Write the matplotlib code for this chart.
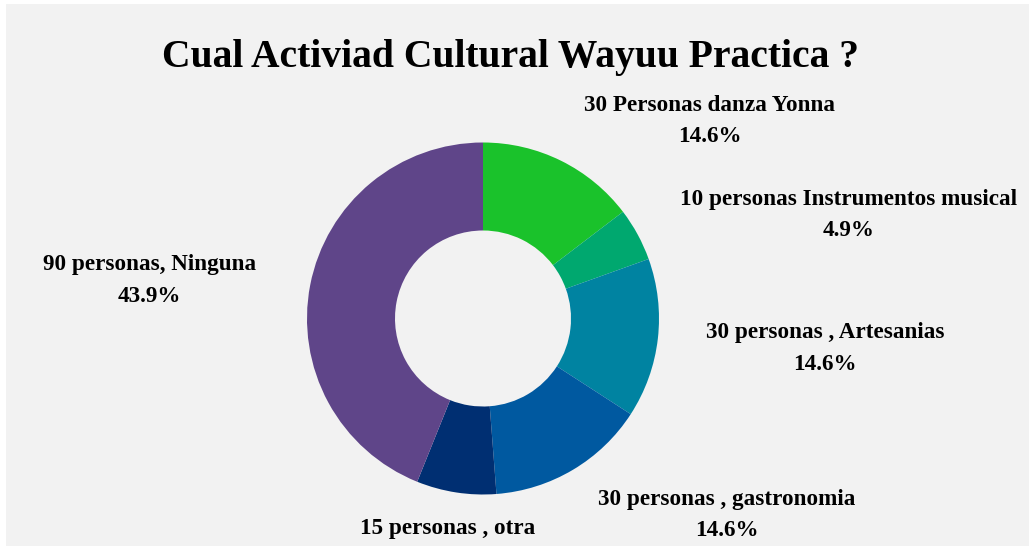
import matplotlib
matplotlib.use("Agg")
import matplotlib.pyplot as plt
from matplotlib.patches import Rectangle

title = "Cual Activiad Cultural Wayuu Practica ?"
categories = ["30 Personas danza Yonna", "10 personas Instrumentos musical",
              "30 personas , Artesanias", "30 personas , gastronomia",
              "15 personas , otra", "90 personas, Ninguna"]
values = [30, 10, 30, 30, 15, 90]
colors = ["#1ac22b", "#00a86f", "#0083a1", "#0059a0", "#002f72", "#5f4589"]
show_pct = [True, True, True, True, False, True]

# label anchor positions (pixels from top-left: centre x, baseline of first line)
label_pos = [(709.5, 111), (848.5, 205), (825, 338), (727, 505), (448, 534), (149.5, 270)]
line_gap = 31.5

W, H = 1029, 550
fig = plt.figure(figsize=(W / 100, H / 100), dpi=100)
fig.patch.set_facecolor("white")
ax = fig.add_axes([0, 0, 1, 1])


def Y(py):
    return H - py


ax.add_patch(Rectangle((6, Y(546)), W - 6, 542, facecolor="#f2f2f2", edgecolor="none", zorder=0))

ax.pie(values, colors=colors, startangle=90, counterclock=False,
       center=(483, Y(318.5)), radius=176, frame=True,
       wedgeprops=dict(width=88, edgecolor="none", linewidth=0))
ax.set_xlim(0, W)
ax.set_ylim(0, H)
ax.set_aspect("equal")
ax.axis("off")

font = dict(family="Liberation Serif", weight="bold", color="black")
ax.text(510, Y(67), title, ha="center", va="baseline", fontsize=28.5, **font)

total = sum(values)
for cat, v, (x, y), sp in zip(categories, values, label_pos, show_pct):
    ax.text(x, Y(y), cat, ha="center", va="baseline", fontsize=16.7, **font)
    if sp:
        ax.text(x, Y(y + line_gap), f"{100 * v / total:.1f}%", ha="center", va="baseline",
                fontsize=16.7, **font)

fig.savefig("out.png", dpi=100, facecolor="white")
